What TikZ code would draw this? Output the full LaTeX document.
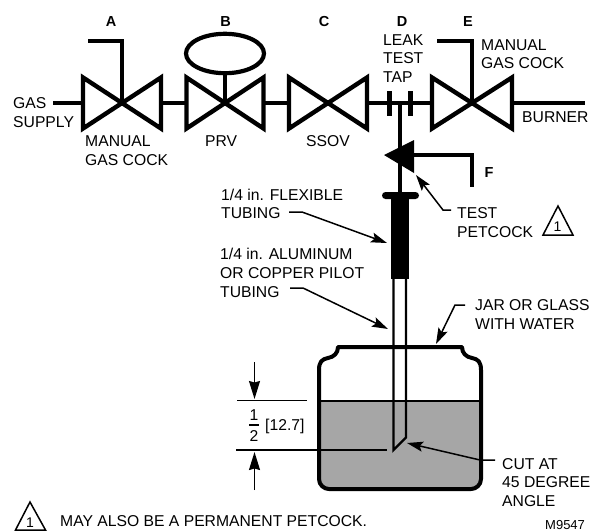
\documentclass[tikz,border=0pt]{standalone}
\usepackage{fontspec}
\setmainfont{Liberation Sans}
\usetikzlibrary{arrows.meta}
\tikzset{
  pipe/.style={line width=4.4pt,line cap=butt},
  handle/.style={line width=4.2pt,miter limit=10},
  valve/.style={line width=4.4pt,line join=miter,miter limit=10,fill=white},
  leader/.style={line width=1.5pt,-{Stealth[length=16pt,width=10pt,inset=3pt]}},
  dim/.style={line width=1.5pt},
  dimarrow/.style={line width=1.5pt,-{Stealth[length=18pt,width=11pt,inset=1.5pt]}},
  tx/.style={font=\fontsize{15.7pt}{17pt}\selectfont,inner sep=0pt,anchor=base west},
  bl/.style={font=\fontsize{14.5pt}{17pt}\selectfont\bfseries,inner sep=0pt,anchor=base},
  tri/.style={line width=1.5pt,line join=miter}
}
\begin{document}
\begin{tikzpicture}[x=1pt,y=-1pt]
\useasboundingbox (0,0) rectangle (592,531);
% jar water
\fill[fill=black!35] (320,401) -- (480,401) -- (480,480) .. controls (480,485) and (476,489) .. (471,489) -- (329,489) .. controls (324,489) and (320,485) .. (320,480) -- cycle;
\draw[line width=2pt] (320,401) -- (480,401);
\draw[line width=4pt,line join=round] (338,347) -- (462,347) .. controls (462,353) and (466,357) .. (472,358) .. controls (478,359) and (481,362) .. (481,370) -- (481,479) .. controls (481,485) and (476,489) .. (471,489) -- (329,489) .. controls (324,489) and (319,485) .. (319,479) -- (319,370) .. controls (319,362) and (322,359) .. (328,358) .. controls (334,357) and (338,353) .. (338,347) -- cycle;
% pipes
\coordinate (pa) at (53,103);
\coordinate (pb) at (585,103);
\draw[pipe] (pa) -- (pb);
% valves
\foreach \cx/\hw in {122/39,225/38.5,328/39,472/40}{
  \draw[valve] (\cx-\hw,77.5) -- (\cx+\hw,128.5) -- (\cx+\hw,77.5) -- (\cx-\hw,128.5) -- cycle;
}
% handles
\draw[handle] (122,103) -- (122,41) -- (88,41);
\draw[handle] (472,103) -- (472,41) -- (437,41);
\draw[line width=3.6pt] (225,103) -- (225,74);
\draw[line width=4.2pt] (225,53.5) ellipse[x radius=39,y radius=19.7];
% tap
\draw[line width=5pt] (389.5,91) -- (389.5,116);
\draw[line width=5pt] (410,91) -- (410,116);
\draw[line width=4pt] (400,103) -- (400,195);
% petcock
\fill (384,155) -- (414,140) -- (414,173) -- cycle;
\draw[handle] (412,155) -- (472,155) -- (472,187);
% tube
\fill[rounded corners=3.5pt] (382,192) rectangle (419,199);
\fill (391,197) rectangle (409,279);
\draw[line width=2.4pt,line join=miter] (393.5,279) -- (393.5,450) -- (406,437.5) -- (406,279);
% dims
\draw[dim] (237,400.5) -- (307,400.5);
\draw[dim] (236,450) -- (387,450);
\coordinate (d1) at (254.5,362); \coordinate (d2) at (254.5,399);
\coordinate (d3) at (254.5,490); \coordinate (d4) at (254.5,452);
\draw[dimarrow] (d1) -- (d2);
\draw[dimarrow] (d3) -- (d4);
% leaders
\draw[leader] (289,212) -- (302,212) -- (387,243);
\draw[leader] (290,288) -- (303,288) -- (388,329);
\draw[leader] (465,305) -- (455,305) -- (436,344);
\draw[leader] (451,210) -- (443,210) -- (416,175);
\draw[leader] (495,460) -- (480,460) -- (407,443);
% triangles
\draw[tri] (558,206) -- (573,235) -- (543,235) -- cycle;
\node[font=\fontsize{14pt}{14pt}\selectfont,inner sep=0pt,anchor=base] (t1) at (557.5,231) {1};
\draw[tri] (30,502) -- (45.5,530) -- (15.5,530) -- cycle;
\node[font=\fontsize{14pt}{14pt}\selectfont,inner sep=0pt,anchor=base] (t2) at (30,527) {1};
% bold labels
\node[bl] (lA) at (111,26) {A};
\node[bl] (lB) at (225.5,26) {B};
\node[bl] (lC) at (324,26) {C};
\node[bl] (lD) at (402,26) {D};
\node[bl] (lE) at (468,26) {E};
\node[bl] (lF) at (489,177) {F};
% text
\node[tx] at (13,108) {GAS};
\node[tx] at (13,127) {SUPPLY};
\node[tx] at (85,146) {MANUAL};
\node[tx] at (85,165) {GAS COCK};
\node[tx] at (205,146) {PRV};
\node[tx] at (306,146) {SSOV};
\node[tx] at (383,45) {LEAK};
\node[tx] at (383,63) {TEST};
\node[tx] at (383,82) {TAP};
\node[tx] at (481,50) {MANUAL};
\node[tx] at (481,68) {GAS COCK};
\node[tx] at (522,122) {BURNER};
\node[tx] at (457,218) {TEST};
\node[tx] at (457,237) {PETCOCK};
\node[tx] at (221,200) {1/4 in. FLEXIBLE};
\node[tx] at (221,218) {TUBING};
\node[tx] at (220,259) {1/4 in. ALUMINUM};
\node[tx] at (220,278) {OR COPPER PILOT};
\node[tx] at (220,297) {TUBING};
\node[tx] at (475,310) {JAR OR GLASS};
\node[tx] at (475,329) {WITH WATER};
\node[tx] at (502,469) {CUT AT};
\node[tx] at (502,487) {45 DEGREE};
\node[tx] at (502,506) {ANGLE};
\node[tx] at (265,430) {[12.7]};
\node[tx,anchor=base] at (254,420) {1};
\draw[line width=1.2pt] (249,425) -- (258.5,425);
\node[tx,anchor=base] at (254,441) {2};
\node[tx] at (60,526) {MAY ALSO BE A PERMANENT PETCOCK.};
\node[font=\fontsize{13pt}{13pt}\selectfont,inner sep=0pt,anchor=base west] at (545,529) {M9547};
\end{tikzpicture}
\end{document}
